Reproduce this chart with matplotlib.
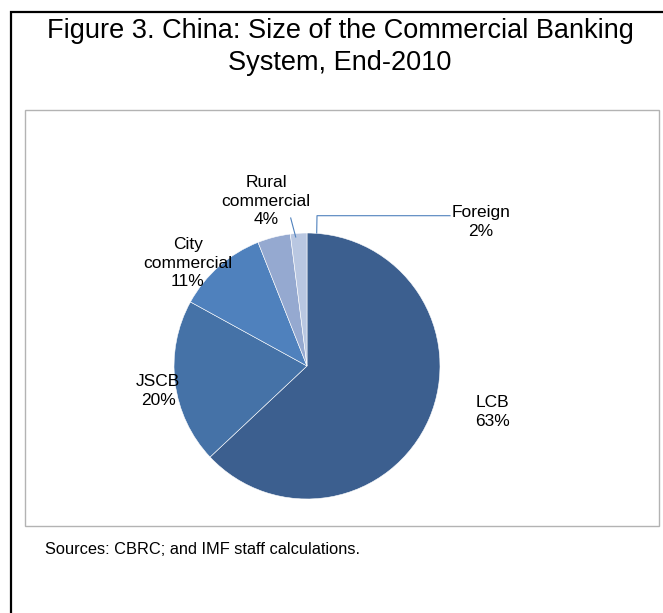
import matplotlib.pyplot as plt
from matplotlib.patches import Rectangle

plt.rcParams['font.family'] = ['Liberation Sans', 'DejaVu Sans']

# bank groups, share of commercial banking assets (%)
groups = ['LCB', 'JSCB', 'City\ncommercial', 'Rural\ncommercial', 'Foreign']
shares = [63, 20, 11, 4, 2]
colors = ['#3c5f8f', '#4572a7', '#4f81bd', '#95a9d0', '#b9c7e1']

W, H = 663, 613
fig = plt.figure(figsize=(W / 100, H / 100), dpi=100)
ax = fig.add_axes([0, 0, 1, 1])
ax.set_xlim(0, W)
ax.set_ylim(0, H)
ax.axis('off')


def py(y):
    # pixel rows are counted from the top
    return H - y


# outer box (open on the right and bottom)
ax.plot([11, 11, W + 5], [py(H + 5), py(12), py(12)], color='black', lw=1.6,
        solid_capstyle='butt', solid_joinstyle='miter')
# chart area frame
ax.add_patch(Rectangle((25, py(526)), 634, 416, fill=False,
                       edgecolor='#b3b3b3', lw=1.0))

ax.text(340, py(47), 'Figure 3. China: Size of the Commercial Banking\nSystem, End-2010',
        ha='center', va='center', fontsize=19.5, linespacing=1.28)

wedges, _ = ax.pie(shares, colors=colors, startangle=90, counterclock=False,
                   center=(307, py(366)), radius=133,
                   wedgeprops=dict(edgecolor='white', linewidth=0.4))
ax.set_xlim(0, W)
ax.set_ylim(0, H)
ax.set_aspect('equal')

label_pos = [(492, 412), (158, 391), (188, 263), (266, 201), (481, 222)]
for name, share, (x, y) in zip(groups, shares, label_pos):
    ax.text(x, py(y), f'{name}\n{share}%', ha='center', va='center',
            fontsize=12.5, linespacing=1.3)

# leader lines for the two small slices
ax.plot([290.7, 295.7], [py(218), py(237)], color='#4f81bd', lw=0.8)
ax.plot([450, 317, 316.7], [py(215.7), py(215.7), py(233)], color='#4f81bd', lw=0.8)

ax.text(45, py(549), 'Sources: CBRC; and IMF staff calculations.',
        ha='left', va='center', fontsize=11.8)

fig.savefig('out.png', dpi=100)
